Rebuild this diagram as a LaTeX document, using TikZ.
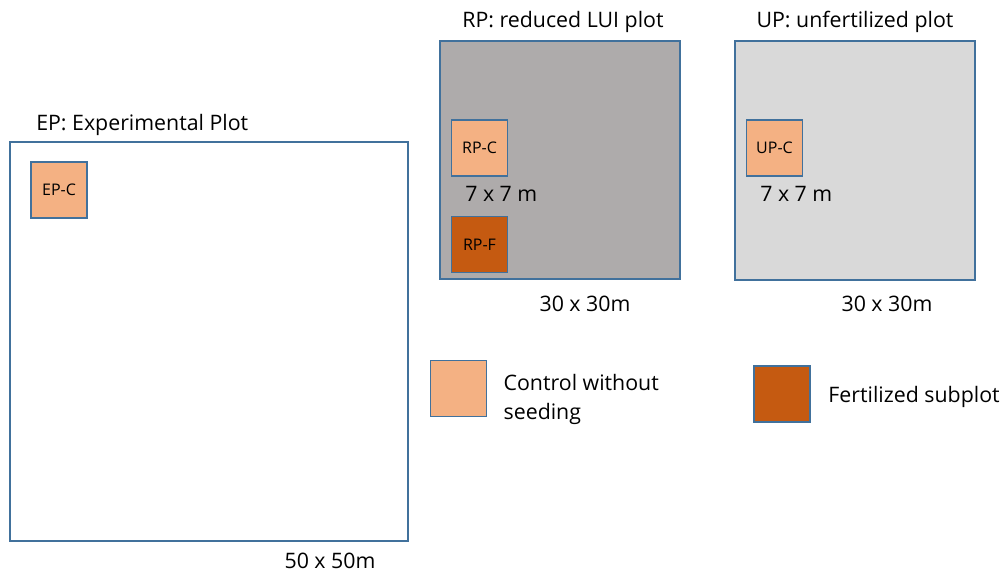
\documentclass[tikz,border=0pt]{standalone}
\usepackage{fontspec}
\setmainfont{Open Sans}
\usetikzlibrary{positioning}

\definecolor{plotline}{HTML}{41719C}
\definecolor{rpgray}{HTML}{AEABAB}
\definecolor{upgray}{HTML}{D9D9D9}
\definecolor{ctrlfill}{HTML}{F4B183}
\definecolor{fertfill}{HTML}{C55A11}

\begin{document}
\begin{tikzpicture}[x=0.75pt, y=-0.75pt, font=\fontsize{16pt}{21.5pt}\selectfont] % one unit = one pixel of the sketch
\tikzstyle{plot} = [draw=plotline, line width=1.3pt, inner sep=0pt]
\tikzstyle{subplot} = [draw=plotline, line width=1.3pt, minimum size=42pt, inner sep=0pt, font=\fontsize{12pt}{14pt}\selectfont]
\tikzstyle{label} = [inner sep=0pt, text centered]

\useasboundingbox (0,0) rectangle (1003,573);

% Experimental plot
\node[plot, minimum width=298.5pt, minimum height=299pt] (EP) at (209,341.5) {};
\node[label, anchor=west] (EPtitle) at (36,125) {EP: Experimental Plot};
\node[subplot, fill=ctrlfill] (EPC) at (59,190) {EP-C};
\node[label] (EPsize) at (330,561) {50 x 50m};

% Reduced LUI plot
\node[plot, fill=rpgray, minimum width=180pt, minimum height=178.5pt] (RP) at (560,160) {};
\node[label] (RPtitle) at (563,22) {RP: reduced LUI plot};
\node[subplot, fill=ctrlfill] (RPC) at (479.5,148) {RP-C};
\node[label, anchor=west] (RPsub) at (465,194) {7 x 7 m};
\node[subplot, fill=fertfill] (RPF) at (479.5,244.5) {RP-F};
\node[label] (RPsize) at (585,304) {30 x 30m};

% Unfertilized plot
\node[plot, fill=upgray, minimum width=180pt, minimum height=179pt] (UP) at (855,160.5) {};
\node[label] (UPtitle) at (855,22) {UP: unfertilized plot};
\node[subplot, fill=ctrlfill] (UPC) at (774.5,148) {UP-C};
\node[label, anchor=west] (UPsub) at (760,194) {7 x 7 m};
\node[label] (UPsize) at (887,304) {30 x 30m};

% Legend
\node[subplot, fill=ctrlfill] (CtrlKey) at (458.5,388.5) {};
\node[label, anchor=west, align=left, right=12pt of CtrlKey, yshift=-8pt] (CtrlText) {Control without\\seeding};
\node[subplot, fill=fertfill] (FertKey) at (782,394) {};
\node[label, anchor=west, right=13pt of FertKey, yshift=-2pt] (FertText) {Fertilized subplot};

\end{tikzpicture}
\end{document}
